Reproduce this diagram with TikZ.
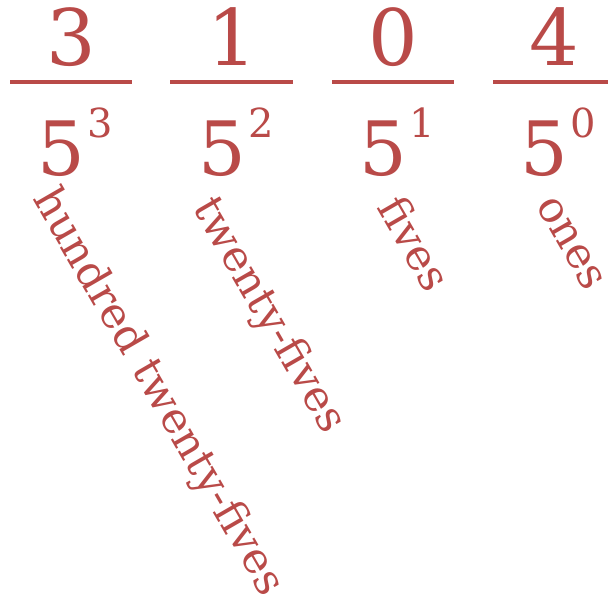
\documentclass[tikz,border=0pt]{standalone}
\usepackage{fontspec}
\setmainfont{DejaVu Serif}
\usepackage{xcolor}
\usepackage{tikz}

\definecolor{placered}{RGB}{185,74,72}

\newcommand{\placepow}[1]{5\kern1pt\raisebox{18.5pt}{\fontsize{20}{20}\selectfont #1}}

\begin{document}
\begin{tikzpicture}[
        x=0.5pt, y=-0.5pt,
        digit/.style={
            anchor=base,
            inner sep=0pt,
            text=placered,
            font=\fontsize{39}{44}\selectfont
        },
        power/.style={
            anchor=base,
            inner sep=0pt,
            text=placered,
            font=\fontsize{37.5}{42}\selectfont
        },
        placename/.style={
            anchor=base west,
            inner sep=0pt,
            rotate=-60,
            text=placered,
            font=\fontsize{21.5}{26}\selectfont
        },
        bar/.style={
            draw=placered,
            line width=2pt
        }
    ]

    \useasboundingbox (0,0) rectangle (608,604);

    % Digits of the numeral
    \node[digit] (dthree) at (71,66) {3};
    \node[digit] (done)   at (232,66) {1};
    \node[digit] (dzero)  at (393,66) {0};
    \node[digit] (dfour)  at (554,66) {4};

    % Rules under the digits
    \draw[bar] (10,82) -- (132,82);
    \draw[bar] (170,82) -- (293,82);
    \draw[bar] (332,82) -- (454,82);
    \draw[bar] (493,82) -- (615,82);

    % Place values
    \node[power] (pthree) at (75,175) {\placepow{3}};
    \node[power] (ptwo)   at (236,175) {\placepow{2}};
    \node[power] (pone)   at (397,175) {\placepow{1}};
    \node[power] (pzero)  at (558,175) {\placepow{0}};

    % Names of the places
    \node[placename] (nthree) at (32,198) {hundred twenty-fives};
    \node[placename] (ntwo)   at (192,207) {twenty-fives};
    \node[placename] (none)   at (376,207) {fives};
    \node[placename] (nzero)  at (535,205) {ones};

\end{tikzpicture}
\end{document}
